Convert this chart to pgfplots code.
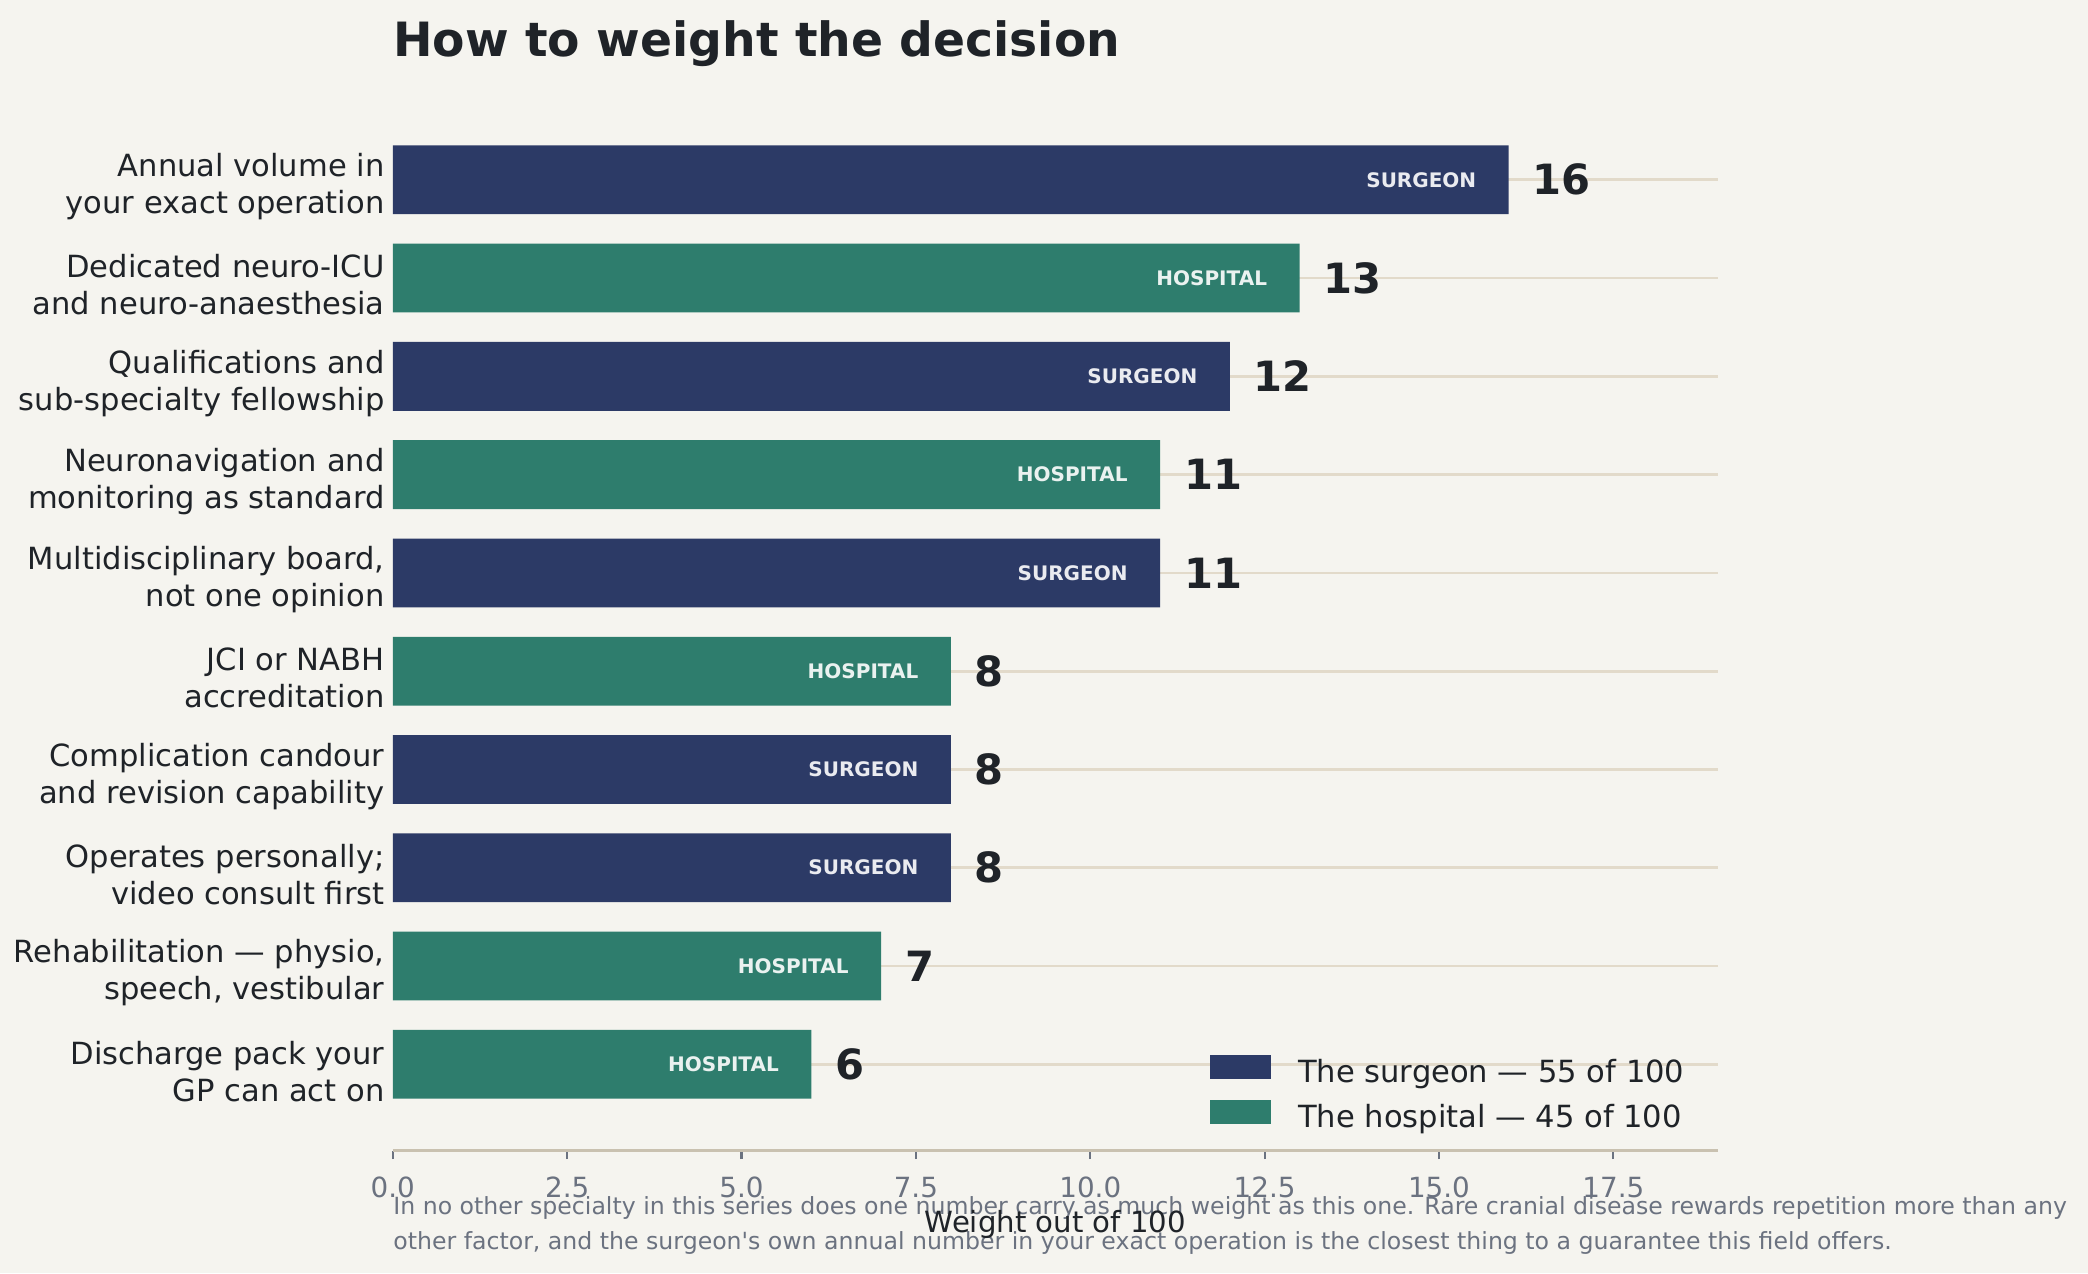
\documentclass[border=0pt]{standalone}
\usepackage{pgfplots}
\pgfplotsset{compat=1.18}
\usepackage{pgfplotstable}
\usepackage{fontspec}
\setmainfont{DejaVu Sans}

\definecolor{bg}{HTML}{F5F4EF}
\definecolor{navy}{HTML}{2C3A66}
\definecolor{tealbar}{HTML}{2E7D6D}
\definecolor{ink}{HTML}{1F2328}
\definecolor{muted}{HTML}{6B7280}
\definecolor{gridc}{HTML}{E2DACA}
\definecolor{spine}{HTML}{C9C1B0}

% y = row from the top, w = weight out of 100
\pgfplotstableread{
y w
0 16
2 12
4 11
6 8
7 8
}\surgeon
\pgfplotstableread{
y w
1 13
3 11
5 8
8 7
9 6
}\hospital

\pgfplotsset{
    valuelabel/.style={nodes near coords,
        nodes near coords style={font=\fontsize{15}{18}\selectfont\bfseries, text=ink, anchor=west, inner sep=0pt, xshift=8.5pt}},
    sidelabel/.style 2 args={draw=none, forget plot, nodes near coords={#1},
        nodes near coords style={font=\fontsize{7.2}{9}\selectfont\bfseries, text=white!90!#2, anchor=east, inner sep=0pt, xshift=-11.5pt}},
}

\begin{document}
\begin{tikzpicture}
\path[use as bounding box, fill=bg] (-141.4pt,-44.1pt) rectangle (610.2pt,414.2pt);
\begin{axis}[
    at={(0,0)}, anchor=south west,
    scale only axis, width=477pt, height=380.6pt,
    xmin=0, xmax=19, ymin=-0.88, ymax=9.88, y dir=reverse,
    clip=false,
    axis x line*=bottom, axis y line*=left,
    x axis line style={spine, line width=1pt, -},
    y axis line style={draw=none},
    tick align=outside, major tick length=3pt,
    xtick={0,2.5,5,7.5,10,12.5,15,17.5},
    xtick style={muted, line width=0.8pt},
    /pgf/number format/assume math mode=true,
    xticklabel={\pgfmathprintnumber[fixed,fixed zerofill,precision=1]{\tick}},
    xticklabel style={font=\fontsize{10}{12}\selectfont, text=muted, anchor=base, inner sep=0pt, yshift=-13.9pt},
    ytick={0,...,9}, ytick style={draw=none},
    yticklabels={
        {Annual volume in\\your exact operation},
        {Dedicated neuro-ICU\\and neuro-anaesthesia},
        {Qualifications and\\sub-specialty fellowship},
        {Neuronavigation and\\monitoring as standard},
        {Multidisciplinary board,\\not one opinion},
        {JCI or NABH\\accreditation},
        {Complication candour\\and revision capability},
        {Operates personally;\\video consult first},
        {Rehabilitation — physio,\\speech, vestibular},
        {Discharge pack your\\GP can act on}},
    yticklabel style={font=\fontsize{11}{13.3}\selectfont, text=ink, align=right, anchor=east, inner sep=0pt, xshift=0.2pt, yshift=-2.5pt},
    ymajorgrids, grid style={gridc, line width=1pt},
    legend cell align=left,
    legend style={draw=none, fill=none, at={(1,0)}, anchor=south east,
        xshift=-11.9pt, yshift=5.75pt, inner sep=0pt,
        row sep=3.9pt, column sep=9.6pt,
        font=\fontsize{11}{13}\selectfont, text=ink,
        nodes={inner sep=0pt, text height=8pt, text depth=2.5pt}},
    legend image code/.code={\fill[#1, draw=none] (0pt,-1.55pt) rectangle (22.3pt,7.05pt);},
]
\addplot[xbar, bar width=0.7, bar shift=0pt, fill=navy, draw=none, valuelabel]
    table[x=w, y=y] {\surgeon};
\addlegendentry{The surgeon — 55 of 100}
\addplot[xbar, bar width=0.7, bar shift=0pt, fill=tealbar, draw=none, valuelabel]
    table[x=w, y=y] {\hospital};
\addlegendentry{The hospital — 45 of 100}
\addplot[sidelabel={SURGEON}{navy}] table[x=w, y=y] {\surgeon};
\addplot[sidelabel={HOSPITAL}{tealbar}] table[x=w, y=y] {\hospital};
\end{axis}
\node[anchor=base west, inner sep=0pt, font=\fontsize{17}{20}\selectfont\bfseries, text=ink] at (0,394pt) {How to weight the decision};
\node[anchor=base west, inner sep=0pt, font=\fontsize{8.5}{10}\selectfont, text=muted] at (0,-22.9pt)
    {In no other specialty in this series does one number carry as much weight as this one. Rare cranial disease rewards repetition more than any};
\node[anchor=base west, inner sep=0pt, font=\fontsize{8.5}{10}\selectfont, text=muted] at (0,-35.5pt)
    {other factor, and the surgeon\textquotesingle s own annual number in your exact operation is the closest thing to a guarantee this field offers.};
\node[anchor=base, inner sep=0pt, font=\fontsize{10.5}{12}\selectfont, text=ink] at (238.5pt,-29.3pt) {Weight out of 100};
\end{tikzpicture}
\end{document}
